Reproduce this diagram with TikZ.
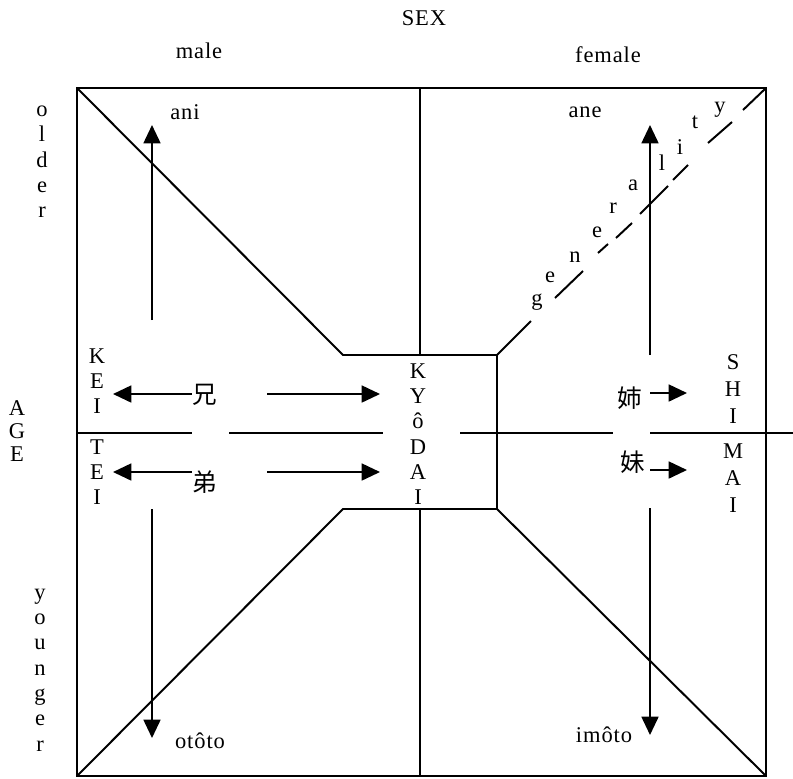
\documentclass[tikz,border=0pt]{standalone}
\usepackage{fontspec}
\setmainfont{Liberation Serif}[LetterSpace=4]
\newfontfamily\jafont{Noto Sans CJK JP}
\usetikzlibrary{arrows.meta}

\tikzset{
  lbl/.style={font=\fontsize{16}{18}\selectfont, inner sep=0pt},
  vlbl/.style={lbl, align=center},
  kanji/.style={font=\jafont\fontsize{17.5}{18}\selectfont, inner sep=0pt},
  arr/.style={-{Triangle[length=13pt,width=12pt]}},
}

\begin{document}
\begin{tikzpicture}[x=0.025cm, y=-0.025cm, line width=1.4pt]
\useasboundingbox (0,0) rectangle (793,778);
% corners of the frame and of the middle box
\coordinate (nw) at (77,88);
\coordinate (ne) at (766,88);
\coordinate (se) at (766,776);
\coordinate (sw) at (77,776);
\coordinate (bnw) at (343,355);
\coordinate (bne) at (497,355);
\coordinate (bse) at (497,509);
\coordinate (bsw) at (343,509);
\draw (nw) rectangle (se);
\draw (nw) -- (bnw) -- (bne) -- (bse) -- (bsw) -- (sw);
\draw (bse) -- (se);
\draw (420,88) -- (420,355);
\draw (420,509) -- (420,776);
% AGE axis
\draw (77,433) -- (192,433);
\draw (229,433) -- (383,433);
\draw (460,433) -- (613,433);
\draw (650,433) -- (793,433);
% generality
\foreach \xa/\ya/\xb/\yb in {497/355/531/321, 555/298/583/271, 598/253/608/244,
  616/238/632/223, 640/214/668/186, 673/180/688/165, 708/143/732/122, 743/110/766/88}
  \draw (\xa,\ya) -- (\xb,\yb);
\foreach \c/\x/\y in {g/537/302, e/550/277, n/575/257, e/597/232, r/613/208,
  a/633/185, l/662/163, i/680/147, t/695/122, y/720/110}
  \node[lbl] at (\x,\y) {\c};

% headings
\node[lbl] (sex) at (424,18) {SEX};
\node[lbl] (male) at (199,51) {male};
\node[lbl] (female) at (608,55) {female};
\node[vlbl] (older) at (42,162) {o\\l\\d\\e\\r};
\node[vlbl, font=\fontsize{16}{16.5}\selectfont] (age) at (17,431) {A\\G\\E};
\node[vlbl] (younger) at (40,670) {y\\o\\u\\n\\g\\e\\r};

% terms
\node[lbl] (ani) at (185,112) {ani};
\node[lbl] (ane) at (585,112) {ane};
\node[lbl] (ototo) at (200,741) {otôto};
\node[lbl] (imoto) at (604,735) {imôto};
\node[vlbl] (kei) at (97,381) {K\\E\\I};
\node[vlbl] (tei) at (97,472) {T\\E\\I};
\node[vlbl] (kyodai) at (418,434) {K\\Y\\ô\\D\\A\\I};
\node[vlbl, font=\fontsize{16}{19}\selectfont] (shi) at (733,389) {S\\H\\I};
\node[vlbl, font=\fontsize{16}{19}\selectfont] (mai) at (733,478) {M\\A\\I};
\node[kanji] (ani-k) at (205,395) {兄};
\node[kanji] (oto-k) at (205,482) {弟};
\node[kanji] (ane-k) at (630,398) {姉};
\node[kanji] (imo-k) at (633,462) {妹};

% arrows
\coordinate (ani-0) at (152,320);
\coordinate (ani-1) at (152,125);
\coordinate (oto-0) at (152,509);
\coordinate (oto-1) at (152,738);
\coordinate (ane-0) at (650,355);
\coordinate (ane-1) at (650,125);
\coordinate (imo-0) at (650,508);
\coordinate (imo-1) at (650,735);
\draw[arr] (ani-0) -- (ani-1);
\draw[arr] (oto-0) -- (oto-1);
\draw[arr] (ane-0) -- (ane-1);
\draw[arr] (imo-0) -- (imo-1);

\coordinate (kei-a) at (113,394);
\coordinate (kyo-a0) at (267,394);
\coordinate (kyo-a1) at (380,394);
\coordinate (tei-a) at (113,472);
\coordinate (kyo-b0) at (267,472);
\coordinate (kyo-b1) at (380,472);
\draw[arr] (ani-k.west |- kei-a) -- (kei-a);
\draw[arr] (kyo-a0) -- (kyo-a1);
\draw[arr] (oto-k.west |- tei-a) -- (tei-a);
\draw[arr] (kyo-b0) -- (kyo-b1);

\coordinate (shi-a0) at (650,393);
\coordinate (shi-a1) at (687,393);
\coordinate (mai-a0) at (650,470);
\coordinate (mai-a1) at (687,470);
\draw[arr] (shi-a0) -- (shi-a1);
\draw[arr] (mai-a0) -- (mai-a1);
\end{tikzpicture}
\end{document}
